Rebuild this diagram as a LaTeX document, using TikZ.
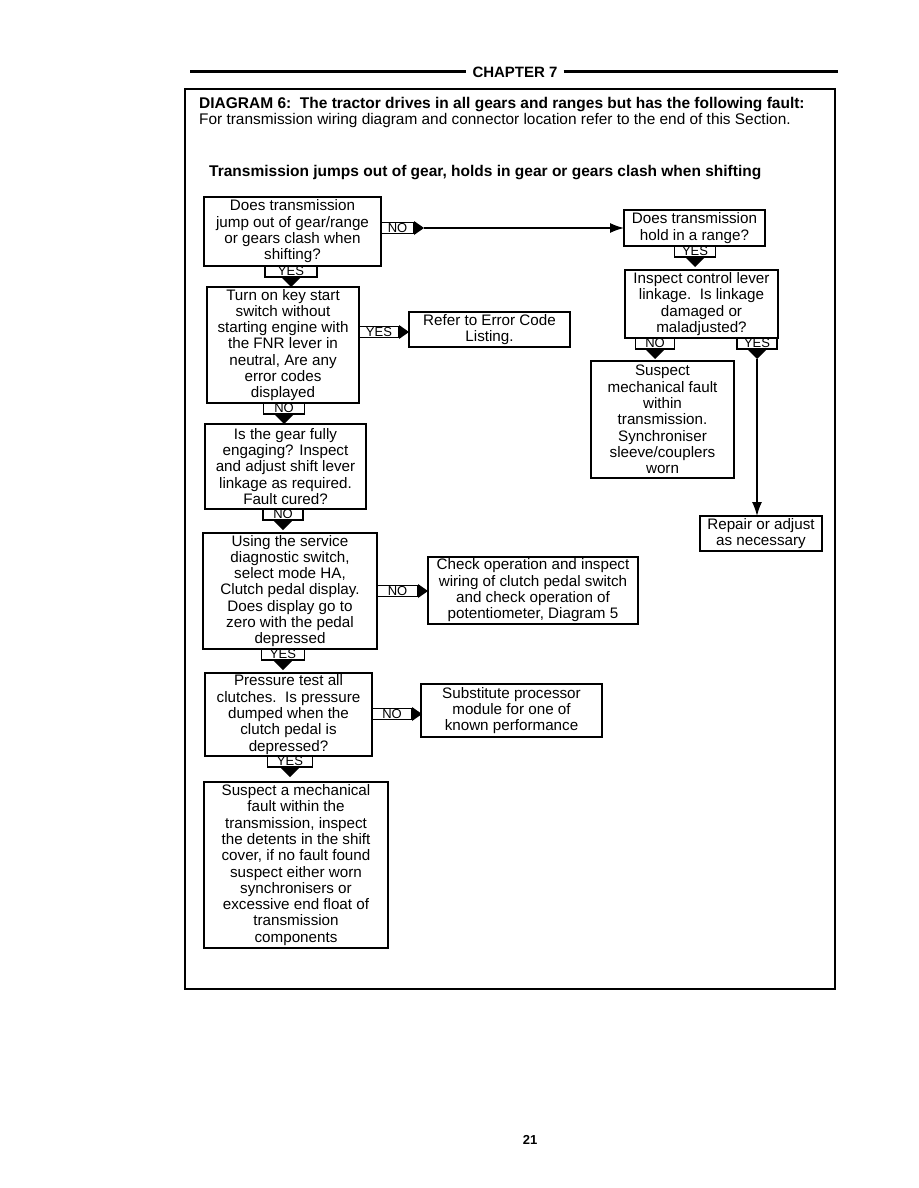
\documentclass[tikz,border=0pt]{standalone}
\usepackage{fontspec}
\setmainfont{Liberation Sans}
\usetikzlibrary{calc,arrows.meta}
\tikzset{
 flowbox/.style={draw, line width=1.6pt, inner sep=0pt, outer sep=0pt, align=center, font=\fontsize{15.2}{16.3}\selectfont},
 tagbox/.style={draw, line width=1.7pt, inner sep=0pt, outer sep=0pt, minimum height=11pt, font=\fontsize{13}{13}\selectfont},
 conn/.style={line width=1.4pt, -{Latex[length=14pt,width=10pt]}},
 rule/.style={line width=3pt}
}
\newcommand{\mkbox}[6]{\node[flowbox, minimum width={(#4-#2)*1pt}, minimum height={(#5-#3)*1pt}] (#1) at ({(#2+#4)/2},{(#3+#5)/2}) {#6};}
\newcommand{\dtag}[5]{%
 \node[tagbox, minimum width={#4*1pt}, anchor=north] (#1) at (#3,0 |- #2.south) {\raisebox{-0.5pt}{#5}};
 \fill ($(#1.south)+(-10,0)$) -- ($(#1.south)+(10,0)$) -- ($(#1.south)+(0,10)$) -- cycle;
 \coordinate (#1-tip) at ($(#1.south)+(0,10)$);}
\newcommand{\stag}[5]{%
 \node[tagbox, minimum width={#4*1pt}, anchor=west] (#1) at (#2,#3) {\raisebox{-0.5pt}{#5}};
 \fill ($(#1.east)+(0,-7)$) -- ($(#1.east)+(0,7)$) -- ($(#1.east)+(10,0)$) -- cycle;
 \coordinate (#1-tip) at ($(#1.east)+(10,0)$);}
\begin{document}
\begin{tikzpicture}[x=1pt,y=-1pt]
\useasboundingbox (0,0) rectangle (918,1188);
% header
\node[font=\bfseries\fontsize{15}{15}\selectfont, inner sep=0pt] (chap) at (515,72) {CHAPTER 7};
\coordinate (hl) at (190,72);
\coordinate (hr) at (838,72);
\draw[rule] (hl) -- ($(chap.west)+(-6,0)$);
\draw[rule] ($(chap.east)+(6,0)$) -- (hr);
% frame
\node[draw, line width=1.6pt, minimum width=650pt, minimum height=900pt, inner sep=0pt, anchor=north west] (frame) at (184,88) {};
\node[anchor=west, inner sep=0pt, font=\bfseries\fontsize{15.5}{15.5}\selectfont] (t1) at (199,105) {DIAGRAM 6:\ \ The tractor drives in all gears and ranges but has the following fault:};
\node[anchor=west, inner sep=0pt, font=\fontsize{15.4}{15.4}\selectfont] (t2) at (199,121) {For transmission wiring diagram and connector location refer to the end of this Section.};
\node[anchor=west, inner sep=0pt, font=\bfseries\fontsize{15.5}{15.5}\selectfont] (t3) at (209,173) {Transmission jumps out of gear, holds in gear or gears clash when shifting};
% boxes
\mkbox{b1}{204}{197}{381}{266}{Does transmission\\jump out of gear/range\\or gears clash when\\shifting?}
\mkbox{b2}{624}{210}{765}{246}{Does transmission\\hold in a range?}
\mkbox{b3}{625}{270}{778}{338}{Inspect control lever\\linkage.\ \ Is linkage\\damaged or\\maladjusted?}
\mkbox{b4}{591}{361}{734}{478}{Suspect\\mechanical fault\\within\\transmission.\\Synchroniser\\sleeve/couplers\\worn}
\mkbox{b5}{700}{516}{822}{551}{Repair or adjust\\as necessary}
\mkbox{c1}{207}{287}{359}{403}{Turn on key start\\switch without\\starting engine with\\the FNR lever in\\neutral, Are any\\error codes\\displayed}
\mkbox{c2}{409}{312}{570}{347}{Refer to Error Code\\Listing.}
\mkbox{d1}{205}{424}{366}{509}{Is the gear fully\\engaging? Inspect\\and adjust shift lever\\linkage as required.\\Fault cured?}
\mkbox{e1}{203}{533}{377}{649}{Using the service\\diagnostic switch,\\select mode HA,\\Clutch pedal display.\\Does display go to\\zero with the pedal\\depressed}
\mkbox{e2}{428}{557}{638}{624}{Check operation and inspect\\wiring of clutch pedal switch\\and check operation of\\potentiometer, Diagram 5}
\mkbox{f1}{205}{673}{372}{756}{Pressure test all\\clutches.\ \ Is pressure\\dumped when the\\clutch pedal is\\depressed?}
\mkbox{f2}{421}{684}{602}{737}{Substitute processor\\module for one of\\known performance}
\mkbox{g1}{204}{782}{388}{948}{Suspect a mechanical\\fault within the\\transmission, inspect\\the detents in the shift\\cover, if no fault found\\suspect either worn\\synchronisers or\\excessive end float of\\transmission\\components}
% tags
\dtag{y1}{b1}{291}{52}{YES}
\stag{n1}{381}{228}{33}{NO}
\draw[conn] (n1-tip) -- (b2.west |- n1-tip);
\dtag{y2}{b2}{695}{41}{YES}
\dtag{n3}{b3}{655}{39}{NO}
\dtag{y3}{b3}{757}{40}{YES}
\draw[conn] (y3-tip) -- (y3-tip |- b5.north);
\stag{yc}{359}{332}{40}{YES}
\dtag{nc}{c1}{284}{41}{NO}
\dtag{nd}{d1}{283}{40}{NO}
\stag{ne}{377}{591}{41}{NO}
\dtag{ye}{e1}{283}{43}{YES}
\stag{nf}{372}{714}{40}{NO}
\dtag{yf}{f1}{290}{45}{YES}
% page number
\node[font=\bfseries\fontsize{13}{13}\selectfont, inner sep=0pt] (pg) at (530,1140) {21};
\end{tikzpicture}
\end{document}
